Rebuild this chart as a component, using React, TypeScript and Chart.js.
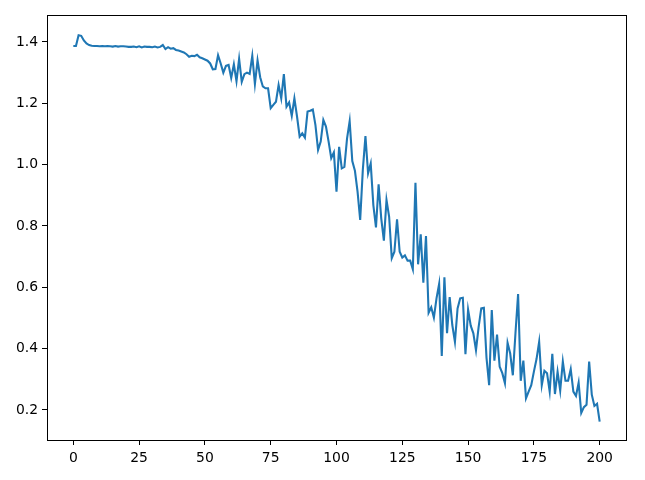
import React, { useEffect, useRef } from "react";
import { Chart, registerables } from "chart.js";

Chart.register(...registerables);

const seriesValues: number[] = [
  1.387, 1.387, 1.422, 1.420, 1.405, 1.395, 1.390, 1.388, 1.387, 1.387,
  1.386, 1.387, 1.386, 1.387, 1.386, 1.385, 1.387, 1.385, 1.386, 1.386,
  1.385, 1.384, 1.384, 1.385, 1.383, 1.386, 1.382, 1.385, 1.384, 1.384,
  1.383, 1.385, 1.382, 1.384, 1.390, 1.377, 1.383, 1.378, 1.380, 1.374,
  1.372, 1.369, 1.366, 1.360, 1.352, 1.355, 1.354, 1.358, 1.350, 1.347,
  1.343, 1.339, 1.330, 1.311, 1.312, 1.357, 1.330, 1.300, 1.322, 1.325,
  1.283, 1.327, 1.272, 1.345, 1.270, 1.295, 1.300, 1.296, 1.355, 1.263,
  1.340, 1.285, 1.255, 1.249, 1.249, 1.184, 1.195, 1.205, 1.260, 1.216,
  1.295, 1.189, 1.203, 1.159, 1.216, 1.157, 1.091, 1.102, 1.088, 1.173,
  1.176, 1.180, 1.129, 1.048, 1.075, 1.146, 1.124, 1.075, 1.021, 1.040,
  0.912, 1.058, 0.988, 0.993, 1.085, 1.142, 1.012, 0.980, 0.912, 0.820,
  0.983, 1.093, 0.972, 1.004, 0.868, 0.795, 0.936, 0.825, 0.752, 0.885,
  0.830, 0.695, 0.716, 0.822, 0.716, 0.697, 0.704, 0.687, 0.687, 0.659,
  0.941, 0.675, 0.773, 0.615, 0.767, 0.517, 0.535, 0.501, 0.564, 0.611,
  0.376, 0.633, 0.450, 0.568, 0.477, 0.422, 0.531, 0.564, 0.566, 0.382,
  0.527, 0.475, 0.450, 0.395, 0.470, 0.531, 0.533, 0.370, 0.281, 0.526,
  0.361, 0.446, 0.341, 0.320, 0.287, 0.419, 0.384, 0.313, 0.450, 0.578,
  0.295, 0.361, 0.238, 0.260, 0.281, 0.325, 0.366, 0.422, 0.281, 0.328,
  0.320, 0.260, 0.383, 0.252, 0.325, 0.263, 0.358, 0.295, 0.295, 0.333,
  0.260, 0.246, 0.289, 0.190, 0.209, 0.217, 0.358, 0.250, 0.213, 0.220,
  0.162,
];

const xTickValues: number[] = [0, 25, 50, 75, 100, 125, 150, 175, 200];
const yTickValues: number[] = [0.2, 0.4, 0.6, 0.8, 1.0, 1.2, 1.4];

const FONT = { family: "'DejaVu Sans', sans-serif", size: 13.9 };

const framePlugin = {
  id: "frame",
  afterDraw(chart: any) {
    const { ctx, chartArea } = chart;
    ctx.save();
    ctx.strokeStyle = "#000";
    ctx.lineWidth = 1;
    ctx.strokeRect(
      Math.round(chartArea.left) + 0.5,
      Math.round(chartArea.top) + 0.5,
      Math.round(chartArea.right - chartArea.left),
      Math.round(chartArea.bottom - chartArea.top)
    );
    ctx.restore();
  },
};

export default function App() {
  const ref = useRef<HTMLCanvasElement | null>(null);

  useEffect(() => {
    document.body.style.margin = "0";
    if (!ref.current) return;
    const points = seriesValues.map((v, i) => ({ x: i, y: v }));
    const chart = new Chart(ref.current, {
      type: "line",
      data: {
        datasets: [
          {
            data: points,
            borderColor: "#1f77b4",
            borderWidth: 2.08,
            pointRadius: 0,
            tension: 0,
            fill: false,
          },
        ],
      },
      options: {
        responsive: false,
        animation: false,
        layout: { padding: { left: 0, right: 19, top: 15, bottom: 0 } },
        plugins: { legend: { display: false }, tooltip: { enabled: false } },
        scales: {
          x: {
            type: "linear",
            min: -10,
            max: 210,
            afterBuildTicks: (s: any) => {
              s.ticks = xTickValues.map((v) => ({ value: v }));
            },
            afterFit: (s: any) => {
              s.height = 40;
            },
            grid: {
              display: true,
              drawOnChartArea: false,
              drawTicks: true,
              tickLength: 5,
              color: "#000",
            },
            border: { display: true, color: "#000" },
            ticks: {
              color: "#000",
              font: FONT,
              padding: 5,
              maxRotation: 0,
              callback: (v: any) => String(v),
            },
          },
          y: {
            type: "linear",
            min: 0.102,
            max: 1.488,
            afterBuildTicks: (s: any) => {
              s.ticks = yTickValues.map((v) => ({ value: v }));
            },
            afterFit: (s: any) => {
              s.width = 47;
            },
            grid: {
              display: true,
              drawOnChartArea: false,
              drawTicks: true,
              tickLength: 5,
              color: "#000",
            },
            border: { display: true, color: "#000" },
            ticks: {
              color: "#000",
              font: FONT,
              padding: 4,
              callback: (v: any) => Number(v).toFixed(1),
            },
          },
        },
      },
      plugins: [framePlugin],
    });
    return () => chart.destroy();
  }, []);

  return (
    <div style={{ width: 645, height: 480, background: "#fff" }}>
      <canvas ref={ref} width={645} height={480} style={{ display: "block" }} />
    </div>
  );
}
